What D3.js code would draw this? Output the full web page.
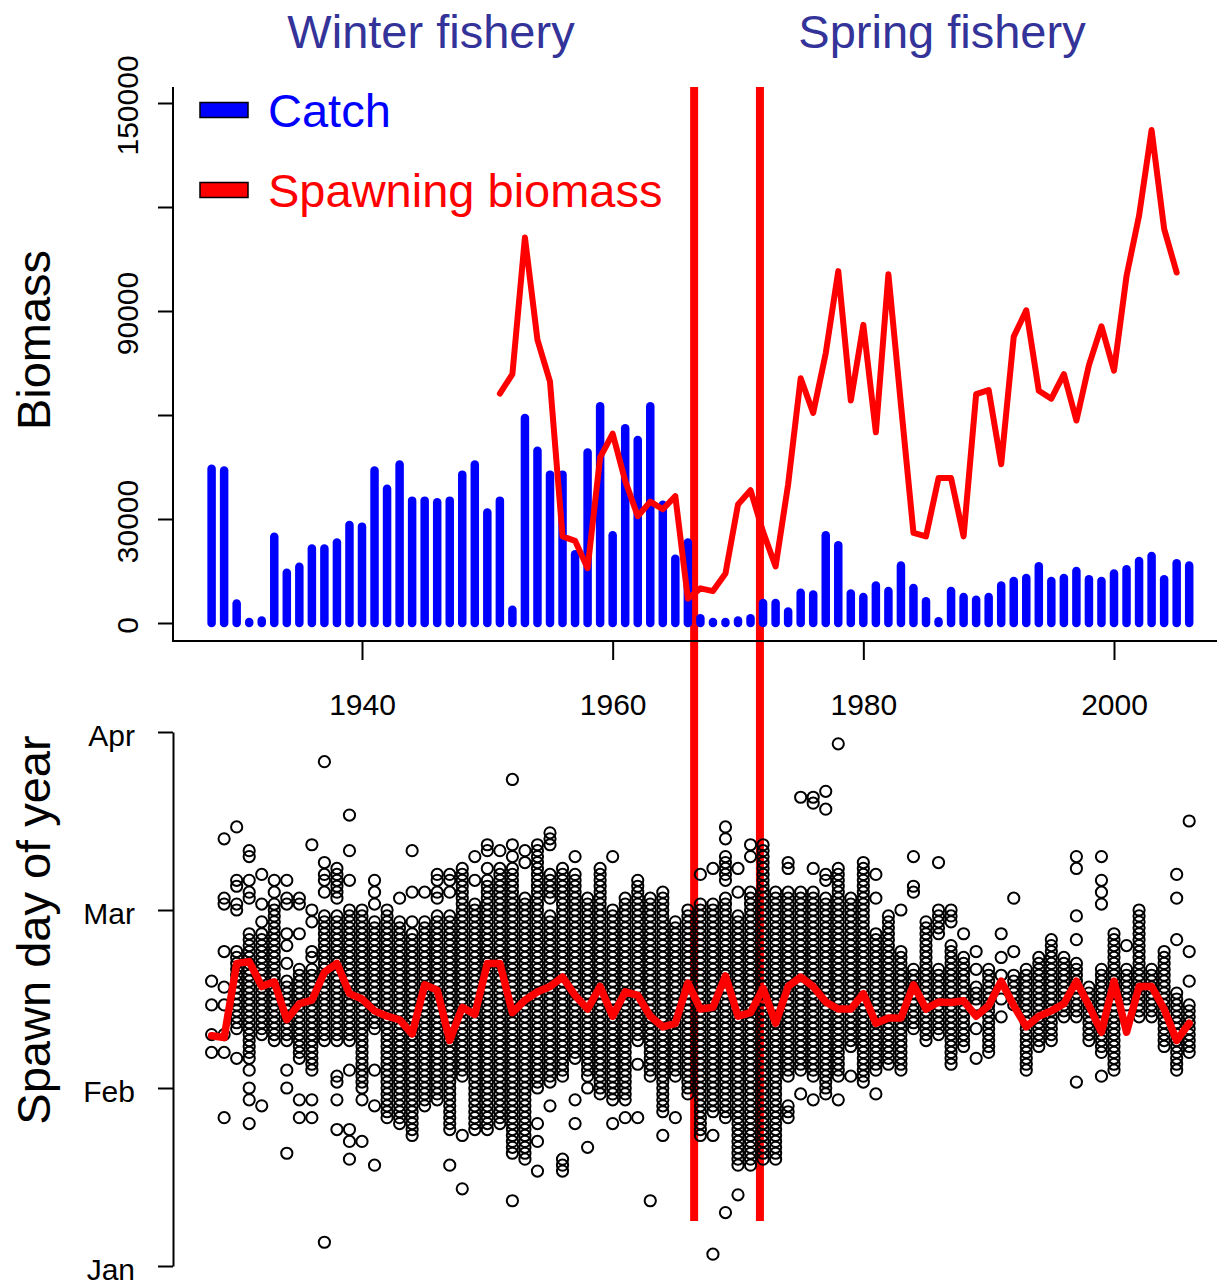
<!DOCTYPE html>
<html lang="en">
<head>
    <meta charset="UTF-8">
    <title>Catch, spawning biomass and spawn day</title>
    <script src="https://d3js.org/d3.v7.min.js"></script>
    <style>
        body { margin: 0; background: #fff; }
        svg { display: block; font-family: "Liberation Sans", Arial, sans-serif; }
    </style>
</head>
<body>
    <script>
        // ---- data ----
        const firstYear = 1928;

        // catch per year 1928-2006, thousands
        const catchK = [
            44.5, 44.0, 5.6, 0.3, 0.7, 24.9, 14.5, 16.2, 21.5, 21.5,
            23.2, 28.3, 27.8, 44.0, 38.7, 45.7, 35.3, 35.3, 34.8, 35.3,
            42.8, 45.7, 31.9, 35.3, 3.8, 59.1, 49.7, 42.8, 42.8, 19.8,
            49.2, 62.5, 25.3, 56.2, 52.8, 62.5, 34.1, 18.5, 23.2, 1.4,
            0.3, 0.3, 0.7, 1.4, 5.8, 5.8, 3.3, 8.7, 8.2, 25.3,
            22.4, 8.5, 7.5, 10.8, 9.2, 16.6, 10.1, 6.3, 0.5, 9.2,
            7.5, 6.7, 7.5, 10.8, 12.1, 13.0, 16.4, 12.1, 13.0, 15.0,
            12.6, 12.1, 14.3, 15.5, 17.9, 19.3, 12.6, 17.2, 16.6
        ];

        // spawning biomass 1951-2005, thousands
        const biomassStart = 1951;
        const biomassK = [
            66.2, 71.8, 111.2, 81.7, 69.6, 25.0, 23.7, 15.8, 47.8, 54.6,
            41.0, 30.8, 35.0, 32.8, 36.6, 7.0, 10.0, 9.2, 14.3, 34.2,
            38.3, 26.3, 16.3, 40.0, 70.6, 60.6, 77.8, 101.5, 64.2, 86.0,
            55.0, 100.6, 63.0, 26.0, 25.0, 41.8, 41.8, 25.0, 66.0, 67.2,
            45.8, 82.6, 90.2, 67.0, 64.7, 71.8, 58.4, 74.4, 85.6, 72.8,
            100.1, 117.5, 142.2, 113.7, 101.1
        ];

        // yearly mean spawn day 1928-2006 (days after 1 Jan)
        const meanDay = [
            38.8, 38.5, 51.0, 51.3, 47.1, 47.9, 41.5, 44.2, 44.8, 49.5,
            51.0, 45.9, 45.0, 43.0, 42.1, 41.5, 39.1, 47.4, 46.5, 38.0,
            43.6, 42.4, 51.0, 51.0, 42.7, 44.8, 46.2, 47.1, 48.7, 45.6,
            43.3, 47.1, 42.1, 46.2, 45.6, 42.1, 40.3, 40.9, 47.7, 43.3,
            43.6, 48.9, 42.1, 42.7, 46.8, 40.9, 47.1, 48.7, 47.1, 44.5,
            43.3, 43.3, 45.9, 40.9, 41.8, 41.8, 47.4, 43.3, 44.5, 44.4,
            44.7, 42.1, 43.9, 48.0, 43.9, 40.3, 42.1, 43.0, 44.2, 48.0,
            43.9, 39.4, 48.0, 39.4, 47.1, 47.1, 43.3, 38.0, 40.9
        ];

        // observed spawn days per year 1928-2006; "a-b" = a column of circles on every day a..b
        const spawnDays = [
            "48,44,39,36", "72,62,61,53,47,44,39,36,25", "74,65,64,61,60,40-53,35",
            "70,69,65,63,62,35-56,33,30,28,24", "66,61,58,39-56,27", "65,63,38-61",
            "65,62,61,56,54,51,38-48,33,30,19", "62,61,56,35-50,28,25", "71,60,58,53,52,33-50,28,25",
            "85,68,66,65,63,38-59,4", "67,66,65,64,63,62,38-59,32,31,28,23", "76,70,65,38-60,33,23,21,18",
            "30-60,28,21", "65,63,61,40-58,33,27,17", "25-60", "62,24-58", "70,63,58,22-56", "63,27-58",
            "66,65,63,62,28-59", "66,65,63,23-59,17", "67,32-66,22,13", "69,65,23-61", "71,70,67,23-65",
            "70,24-67", "82,71,69,19-67,11", "70,68,18-62", "30-71,24,21,16", "71-73,62-66,31-59,27",
            "32-67,16-18", "69,35-66,28,24", "32-62,30,20", "29-67", "69,28-60,24", "28-62,25",
            "38-65,34,25", "32-62,11", "26-63,22", "32-58,25", "29-60", "66,22-61", "67,26-61,22,2",
            "74,72,65-69,25-62,9", "67,63,17-59,12", "71,69,17-63", "18-71", "18-63", "68,67,32-63,25-27",
            "79,33-63,29", "79,78,67,32-63,28", "80,77,66,65,29-62", "88,32-67,28", "37-62,32", "31-68",
            "66,62,33-56,29", "34-59", "60,33-53", "69,64,63,40-50", "38-58", "68,56-60,39-50",
            "58-60,34-54", "56,37-52", "53,50,44-47,40,35", "36-50", "56,52,49,45,42", "62,53,44-49",
            "33-50", "37-52", "38-55", "42-52", "69,67,59,55,42-51,31", "38-47", "69,65,63,61,36-50,32",
            "33-56", "54,44-50", "42-60", "42-50", "37-53", "66,62,55,33-46", "75,53,48,36-44"
        ];

        const regimeBreaks = [1966.5, 1971.75];
        const xTicks = [1940, 1960, 1980, 2000];
        const biomassTicks = [0, 30000, 60000, 90000, 120000, 150000];
        const biomassLabels = [0, 30000, 90000, 150000];
        const monthTicks = [0, 30, 60, 90];
        const monthNames = ["Jan", "Feb", "Mar", "Apr"];

        // ---- layout ----
        const width = 1217;
        const height = 1287;
        const left = 173;

        const x = d3.scaleLinear().domain([1940, 2000]).range([362, 1114]);
        const yTop = d3.scaleLinear().domain([0, 150000]).range([623, 103]);
        const yDay = d3.scaleLinear().domain([0, 90]).range([1266, 732]);

        const svg = d3.select("body").append("svg")
            .attr("width", width)
            .attr("height", height);

        svg.append("rect").attr("width", width).attr("height", height).attr("fill", "#fff");

        const years = catchK.map((d, i) => firstYear + i);

        // regime lines behind everything
        svg.append("g").selectAll("line")
            .data(regimeBreaks)
            .join("line")
            .attr("x1", d => x(d)).attr("x2", d => x(d))
            .attr("y1", 87).attr("y2", 1221)
            .attr("stroke", "#ff0000")
            .attr("stroke-width", 8);

        // ---- top panel ----
        svg.append("path")
            .attr("d", `M${left},87V641H${width}`)
            .attr("fill", "none")
            .attr("stroke", "#000")
            .attr("stroke-width", 2);

        svg.append("g").selectAll("line")
            .data(years)
            .join("line")
            .attr("x1", d => x(d)).attr("x2", d => x(d))
            .attr("y1", yTop(0))
            .attr("y2", (d, i) => yTop(catchK[i] * 1000))
            .attr("stroke", "#0000ff")
            .attr("stroke-width", 8.5)
            .attr("stroke-linecap", "round");

        const biomass = biomassK.map((v, i) => ({ year: biomassStart + i, value: v * 1000 }));
        svg.append("path")
            .datum(biomass)
            .attr("fill", "none")
            .attr("stroke", "#ff0000")
            .attr("stroke-width", 6)
            .attr("stroke-linejoin", "round")
            .attr("stroke-linecap", "round")
            .attr("d", d3.line().x(d => x(d.year)).y(d => yTop(d.value)));

        const yAxisTop = svg.append("g")
            .attr("transform", `translate(${left},0)`)
            .call(d3.axisLeft(yTop)
                .tickValues(biomassTicks)
                .tickSize(15)
                .tickFormat(d => biomassLabels.includes(d) ? d : ""));
        yAxisTop.select(".domain").remove();
        yAxisTop.selectAll(".tick line").attr("stroke-width", 2);
        yAxisTop.selectAll(".tick text")
            .attr("x", null).attr("dy", null)
            .attr("transform", "translate(-35,2) rotate(-90)")
            .attr("text-anchor", "middle")
            .attr("fill", "#000")
            .style("font-size", "30px")
            .style("font-family", "Liberation Sans, Arial, sans-serif");

        const xAxis = svg.append("g")
            .attr("transform", "translate(0,641)")
            .call(d3.axisBottom(x).tickValues(xTicks).tickSize(19).tickFormat(d3.format("d")));
        xAxis.select(".domain").remove();
        xAxis.selectAll(".tick line").attr("stroke-width", 2);
        xAxis.selectAll(".tick text")
            .attr("y", 53)
            .attr("fill", "#000")
            .style("font-size", "30px")
            .style("font-family", "Liberation Sans, Arial, sans-serif");

        svg.append("text")
            .attr("transform", "translate(50,340) rotate(-90)")
            .attr("text-anchor", "middle")
            .style("font-size", "47px")
            .text("Biomass");

        // legend
        const legend = [
            { label: "Catch", color: "#0000ff", y: 110 },
            { label: "Spawning biomass", color: "#ff0000", y: 190 }
        ];
        const lg = svg.append("g").selectAll("g").data(legend).join("g");
        lg.append("rect")
            .attr("x", 200).attr("y", d => d.y - 7.5)
            .attr("width", 48).attr("height", 15)
            .attr("fill", d => d.color)
            .attr("stroke", "#000")
            .attr("stroke-width", 1.5);
        lg.append("text")
            .attr("x", 268).attr("y", d => d.y + 17)
            .attr("fill", d => d.color)
            .style("font-size", "47px")
            .text(d => d.label);

        // fishery titles
        svg.append("g").selectAll("text")
            .data([{ t: "Winter fishery", cx: 431 }, { t: "Spring fishery", cx: 942 }])
            .join("text")
            .attr("x", d => d.cx).attr("y", 48)
            .attr("text-anchor", "middle")
            .attr("fill", "#333399")
            .style("font-size", "47px")
            .text(d => d.t);

        // ---- bottom panel ----
        const points = [];
        spawnDays.forEach((s, i) => {
            s.split(",").forEach(tok => {
                if (tok.includes("-")) {
                    const [a, b] = tok.split("-").map(Number);
                    for (let d = a; d <= b; d++) points.push({ year: firstYear + i, day: d });
                } else {
                    points.push({ year: firstYear + i, day: +tok });
                }
            });
        });

        svg.append("g").selectAll("circle")
            .data(points)
            .join("circle")
            .attr("cx", d => x(d.year))
            .attr("cy", d => yDay(d.day))
            .attr("r", 5.6)
            .attr("fill", "none")
            .attr("stroke", "#000")
            .attr("stroke-width", 2);

        svg.append("path")
            .datum(meanDay.map((v, i) => ({ year: firstYear + i, day: v })))
            .attr("fill", "none")
            .attr("stroke", "#ff0000")
            .attr("stroke-width", 7.5)
            .attr("stroke-linejoin", "round")
            .attr("stroke-linecap", "round")
            .attr("d", d3.line().x(d => x(d.year)).y(d => yDay(d.day)));

        const yAxisDay = svg.append("g")
            .attr("transform", `translate(${left},0)`)
            .call(d3.axisLeft(yDay)
                .tickValues(monthTicks)
                .tickSize(15)
                .tickSizeOuter(0)
                .tickPadding(23)
                .tickFormat((d, i) => monthNames[i]));
        yAxisDay.select(".domain").attr("stroke-width", 2);
        yAxisDay.selectAll(".tick line").attr("stroke-width", 2);
        yAxisDay.selectAll(".tick text")
            .attr("dy", "0.45em")
            .attr("fill", "#000")
            .style("font-size", "30px")
            .style("font-family", "Liberation Sans, Arial, sans-serif");

        svg.append("text")
            .attr("transform", "translate(50,930) rotate(-90)")
            .attr("text-anchor", "middle")
            .style("font-size", "47px")
            .text("Spawn day of year");
    </script>
</body>
</html>
